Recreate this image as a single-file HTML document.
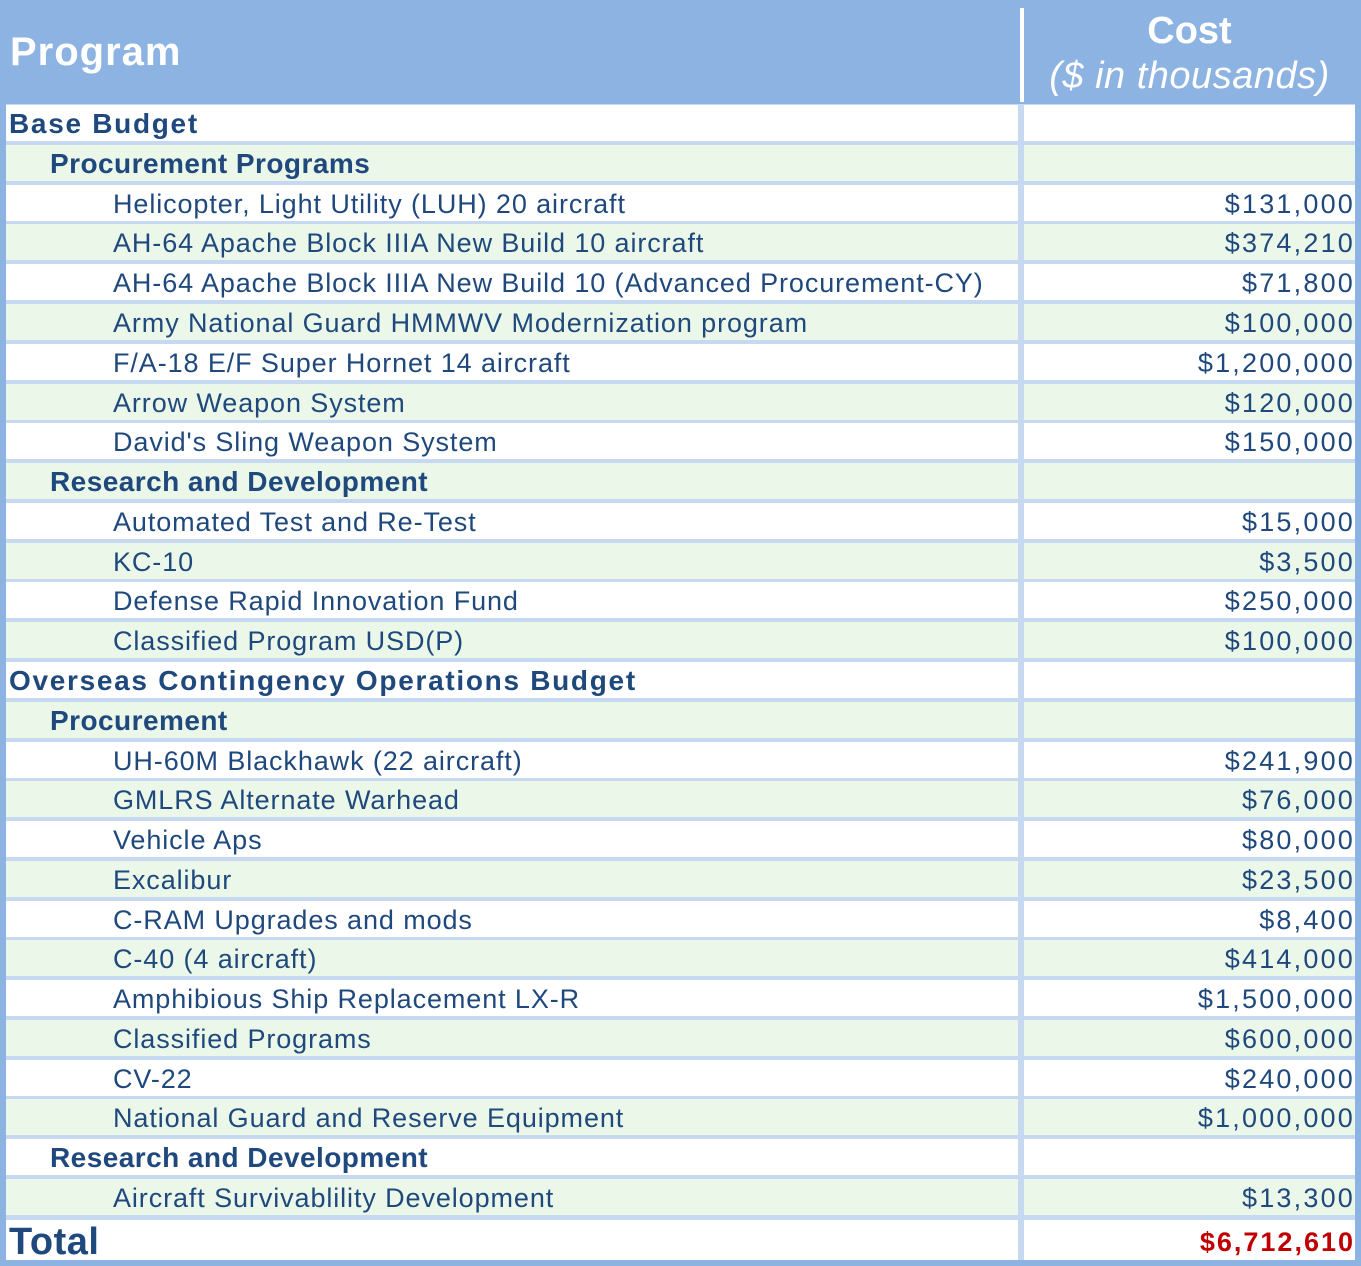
<!DOCTYPE html>
<html><head><meta charset="utf-8"><style>
body{margin:0;width:1361px;height:1266px;background:#8db3e2;position:relative;overflow:hidden;font-family:"Liberation Sans",sans-serif;}
.body{position:absolute;left:6px;top:104px;width:1349px;height:1156px;background:#c6d9f1;}
.r{position:absolute;left:6px;width:1349px;height:36px;}
.a,.b{position:absolute;top:0;height:36px;line-height:38px;font-size:27px;color:#1f497d;white-space:nowrap;box-sizing:border-box;overflow:hidden;}
.a{left:0;width:1012px;letter-spacing:0.9px;}
.b{left:1018px;width:331px;text-align:right;padding-right:0;letter-spacing:2.2px;}
.w .a,.w .b{background:#fff;}
.g .a,.g .b{background:#ebf7e9;}
.h{font-weight:bold;padding-left:3px;font-size:28px!important;letter-spacing:1.7px!important;}
.s{font-weight:bold;padding-left:44px;font-size:28px!important;letter-spacing:0.45px!important;}
.i{padding-left:107px;}
</style></head><body>
<div style="position:absolute;left:10px;top:30px;font-size:40px;letter-spacing:1px;font-weight:bold;color:#fff;">Program</div>
<div style="position:absolute;left:1020px;top:8px;width:4px;height:94px;background:#fff;"></div>
<div style="position:absolute;left:1024px;top:8px;width:331px;text-align:center;color:#fff;">
<div style="font-size:38px;font-weight:bold;line-height:46px;">Cost</div>
<div style="font-size:38px;font-style:italic;line-height:44px;letter-spacing:0.5px;">($ in thousands)</div></div>
<div class="body"></div>
<div class="r w" style="top:105px"><div class="a h">Base Budget</div><div class="b"></div></div>
<div class="r g" style="top:145px"><div class="a s">Procurement Programs</div><div class="b"></div></div>
<div class="r w" style="top:185px"><div class="a i">Helicopter, Light Utility (LUH) 20 aircraft</div><div class="b">$131,000</div></div>
<div class="r g" style="top:224px"><div class="a i">AH-64 Apache Block IIIA New Build 10 aircraft</div><div class="b">$374,210</div></div>
<div class="r w" style="top:264px"><div class="a i">AH-64 Apache Block IIIA New Build 10 (Advanced Procurement-CY)</div><div class="b">$71,800</div></div>
<div class="r g" style="top:304px"><div class="a i">Army National Guard HMMWV Modernization program</div><div class="b">$100,000</div></div>
<div class="r w" style="top:344px"><div class="a i">F/A-18 E/F Super Hornet 14 aircraft</div><div class="b">$1,200,000</div></div>
<div class="r g" style="top:384px"><div class="a i">Arrow Weapon System</div><div class="b">$120,000</div></div>
<div class="r w" style="top:423px"><div class="a i">David's Sling Weapon System</div><div class="b">$150,000</div></div>
<div class="r g" style="top:463px"><div class="a s">Research and Development</div><div class="b"></div></div>
<div class="r w" style="top:503px"><div class="a i">Automated Test and Re-Test</div><div class="b">$15,000</div></div>
<div class="r g" style="top:543px"><div class="a i">KC-10</div><div class="b">$3,500</div></div>
<div class="r w" style="top:582px"><div class="a i">Defense Rapid Innovation Fund</div><div class="b">$250,000</div></div>
<div class="r g" style="top:622px"><div class="a i">Classified Program USD(P)</div><div class="b">$100,000</div></div>
<div class="r w" style="top:662px"><div class="a h">Overseas Contingency Operations Budget</div><div class="b"></div></div>
<div class="r g" style="top:702px"><div class="a s">Procurement</div><div class="b"></div></div>
<div class="r w" style="top:742px"><div class="a i">UH-60M Blackhawk (22 aircraft)</div><div class="b">$241,900</div></div>
<div class="r g" style="top:781px"><div class="a i">GMLRS Alternate Warhead</div><div class="b">$76,000</div></div>
<div class="r w" style="top:821px"><div class="a i">Vehicle Aps</div><div class="b">$80,000</div></div>
<div class="r g" style="top:861px"><div class="a i">Excalibur</div><div class="b">$23,500</div></div>
<div class="r w" style="top:901px"><div class="a i">C-RAM Upgrades and mods</div><div class="b">$8,400</div></div>
<div class="r g" style="top:940px"><div class="a i">C-40 (4 aircraft)</div><div class="b">$414,000</div></div>
<div class="r w" style="top:980px"><div class="a i">Amphibious Ship Replacement LX-R</div><div class="b">$1,500,000</div></div>
<div class="r g" style="top:1020px"><div class="a i">Classified Programs</div><div class="b">$600,000</div></div>
<div class="r w" style="top:1060px"><div class="a i">CV-22</div><div class="b">$240,000</div></div>
<div class="r g" style="top:1099px"><div class="a i">National Guard and Reserve Equipment</div><div class="b">$1,000,000</div></div>
<div class="r w" style="top:1139px"><div class="a s">Research and Development</div><div class="b"></div></div>
<div class="r g" style="top:1179px"><div class="a i">Aircraft Survivablility Development</div><div class="b">$13,300</div></div>
<div class="r w" style="top:1220px;height:40px"><div class="a" style="font-weight:bold;padding-left:3px;font-size:38px;letter-spacing:0.5px;height:40px;line-height:44px;">Total</div><div class="b" style="height:40px;line-height:44px;color:#c00000;font-weight:bold;letter-spacing:2px;">$6,712,610</div></div>
</body></html>
